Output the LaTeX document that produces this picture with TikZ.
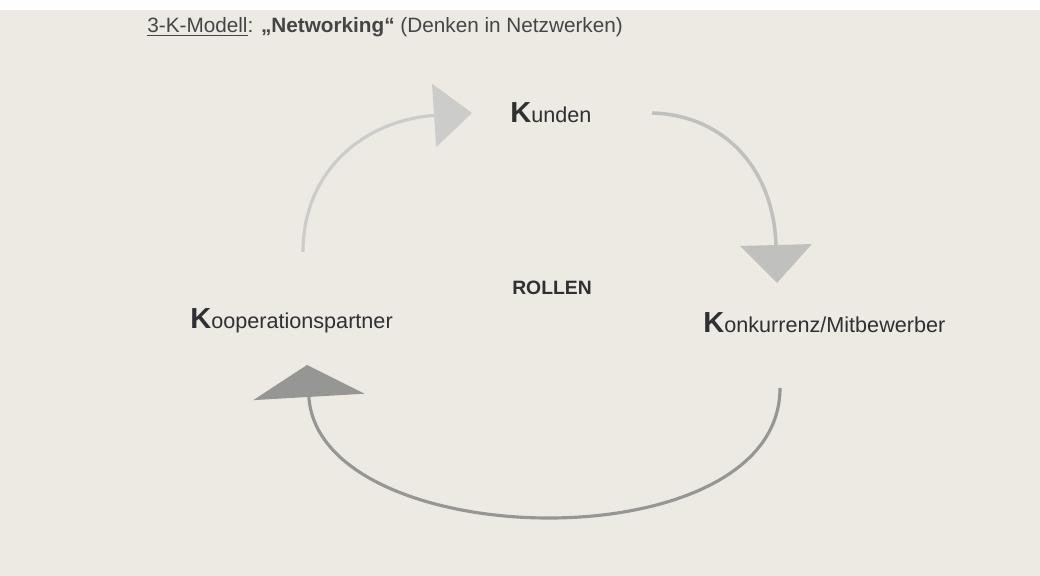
\documentclass[tikz,border=0pt]{standalone}
\usepackage{fontspec}
\setmainfont{Liberation Sans}
\usetikzlibrary{arrows.meta}
\definecolor{paper}{RGB}{236,234,227}
\definecolor{ink}{RGB}{48,48,52}
\definecolor{pale}{RGB}{204,204,202}
\definecolor{mid}{RGB}{192,192,190}
\definecolor{dark}{RGB}{150,150,148}
\tikzset{
  rolle/.style={anchor=base west,inner sep=0pt,text=ink,font=\fontsize{12.3}{14}\selectfont},
  kreis/.style={line width=1.8pt},
}
\newcommand{\KK}{{\fontsize{16.5}{18}\selectfont\bfseries K}}
\begin{document}
\begin{tikzpicture}
\useasboundingbox (0,0) rectangle (20.8,11.52);
\fill[paper] (0,0) rectangle (20.8,11.32);
\fill[white!96!paper] (0,11.32) rectangle (20.8,11.52);
% title
\node (titel) [anchor=base west,inner sep=0pt,text=ink!90,font=\fontsize{11.8}{13}\selectfont]
  at (2.94,10.86) {\underline{3-K-Modell}: \textbf{„Networking“} (Denken in Netzwerken)};
% roles
\node (kunden) [rolle] at (10.2,9.06) {\KK unden};
\node (koop) [rolle] at (3.8,4.94) {\KK ooperationspartner};
\node (konk) [rolle] at (14.06,4.86) {\KK onkurrenz/Mitbewerber};
\node (rollen) [text=ink,font=\fontsize{11}{13}\selectfont\bfseries] at (11.04,5.76) {ROLLEN};
% arrow ends
\coordinate (a1) at (6.06,6.48);
\coordinate (a2) at (9.44,9.26);
\coordinate (b1) at (13.04,9.26);
\coordinate (b2) at (15.54,5.86);
\coordinate (c1) at (15.6,3.76);
\coordinate (c2) at (6.14,4.22);
\draw[kreis,pale,-{Triangle[length=0.76cm,width=1.26cm]}]
  (a1) .. controls (6.06,8.12) and (7.3,9.12) .. (a2);
\draw[kreis,mid,line width=2pt,-{Triangle[length=0.76cm,width=1.42cm]}]
  (b1) .. controls (14.5,9.22) and (15.48,8.12) .. (b2);
\draw[kreis,dark,-{Triangle[length=0.64cm,width=2.22cm]}]
  (c1) .. controls (15.6,0.22) and (6.36,0.42) .. (c2);
\end{tikzpicture}
\end{document}
